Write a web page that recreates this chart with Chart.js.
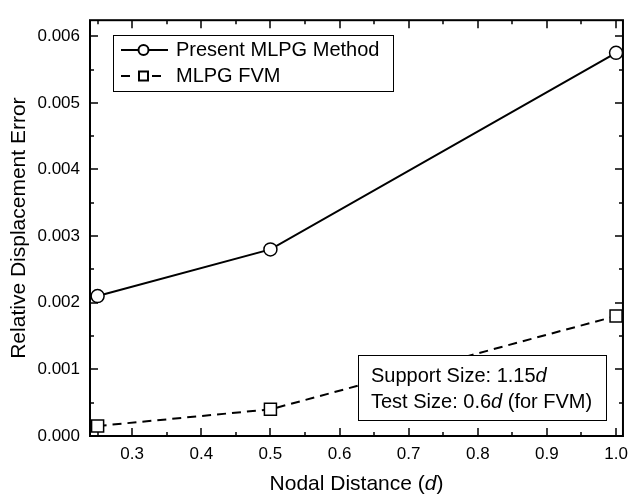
<!DOCTYPE html>
<html>
<head>
<meta charset="utf-8">
<script src="https://cdn.jsdelivr.net/npm/chart.js@4.4.0/dist/chart.umd.min.js"></script>
<style>
  html, body { margin: 0; padding: 0; background: #fff; }
  #wrap { width: 636px; height: 497px; }
</style>
</head>
<body>
<div id="wrap"><canvas id="errChart"></canvas></div>
<script>
// data
const nodalDistance = [0.25, 0.5, 1.0];
const presentMLPG = [0.0021, 0.0028, 0.00575];
const mlpgFVM = [0.00015, 0.0004, 0.0018];

const xTicks = [0.3, 0.4, 0.5, 0.6, 0.7, 0.8, 0.9, 1.0];
const xMinor = [0.25, 0.35, 0.45, 0.55, 0.65, 0.75, 0.85, 0.95];
const yTicks = [0, 0.001, 0.002, 0.003, 0.004, 0.005, 0.006];
const yMinor = [0.0005, 0.0015, 0.0025, 0.0035, 0.0045, 0.0055];

const FONT = "'Liberation Sans', Arial, sans-serif";

function pts(ys) {
    return nodalDistance.map((x, i) => ({ x: x, y: ys[i] }));
}

// draw a string made of [text, italic] pieces starting at x
function drawParts(ctx, parts, x, y, size, align) {
    let total = 0;
    parts.forEach(p => {
        ctx.font = (p[1] ? "italic " : "") + size + "px " + FONT;
        total += ctx.measureText(p[0]).width;
    });
    let cx = align === "center" ? x - total / 2 : x;
    ctx.textAlign = "left";
    parts.forEach(p => {
        ctx.font = (p[1] ? "italic " : "") + size + "px " + FONT;
        ctx.fillText(p[0], cx, y);
        cx += ctx.measureText(p[0]).width;
    });
}

const framePlugin = {
    id: "frame",
    afterDatasetsDraw(chart) {
        const { ctx, chartArea: a, scales: { x, y } } = chart;
        ctx.save();
        ctx.strokeStyle = "#000";
        ctx.fillStyle = "#000";

        // ticks, inward on all four sides
        ctx.lineWidth = 1.5;
        ctx.beginPath();
        const vt = (v, len) => {
            const p = Math.round(x.getPixelForValue(v));
            ctx.moveTo(p, a.bottom); ctx.lineTo(p, a.bottom - len);
            ctx.moveTo(p, a.top); ctx.lineTo(p, a.top + len);
        };
        const ht = (v, len) => {
            const p = Math.round(y.getPixelForValue(v));
            ctx.moveTo(a.left, p); ctx.lineTo(a.left + len, p);
            ctx.moveTo(a.right, p); ctx.lineTo(a.right - len, p);
        };
        xTicks.forEach(v => vt(v, 8));
        xMinor.forEach(v => vt(v, 4));
        yTicks.forEach(v => ht(v, 8));
        yMinor.forEach(v => ht(v, 4));
        ctx.stroke();

        ctx.lineWidth = 2;
        ctx.strokeRect(a.left, a.top, a.right - a.left, a.bottom - a.top);

        // legend box
        ctx.lineWidth = 1;
        ctx.fillStyle = "#fff";
        ctx.fillRect(113, 35, 280, 56);
        ctx.strokeRect(113.5, 35.5, 280, 56);
        ctx.fillStyle = "#000";
        ctx.lineWidth = 2;
        ctx.beginPath();
        ctx.moveTo(121, 50); ctx.lineTo(168, 50);
        ctx.stroke();
        ctx.beginPath();
        ctx.arc(143.5, 50, 5, 0, Math.PI * 2);
        ctx.fillStyle = "#fff"; ctx.fill(); ctx.stroke();
        ctx.beginPath();
        ctx.moveTo(121, 76); ctx.lineTo(130, 76);
        ctx.moveTo(152, 76); ctx.lineTo(161, 76);
        ctx.stroke();
        ctx.fillRect(139, 71.5, 9, 9);
        ctx.strokeRect(139, 71.5, 9, 9);
        ctx.fillStyle = "#000";
        ctx.textBaseline = "middle";
        drawParts(ctx, [["Present MLPG Method", false]], 176, 50, 20, "left");
        drawParts(ctx, [["MLPG FVM", false]], 176, 76, 20, "left");

        // parameter note
        ctx.lineWidth = 1;
        ctx.fillStyle = "#fff";
        ctx.fillRect(358, 355, 248, 65);
        ctx.strokeRect(358.5, 355.5, 248, 65);
        ctx.fillStyle = "#000";
        drawParts(ctx, [["Support Size: 1.15", false], ["d", true]], 371, 376, 20, "left");
        drawParts(ctx, [["Test Size: 0.6", false], ["d", true], [" (for FVM)", false]], 371, 402, 20, "left");

        // axis titles
        drawParts(ctx, [["Nodal Distance (", false], ["d", true], [")", false]],
            (a.left + a.right) / 2, 484, 21, "center");
        ctx.translate(19, (a.top + a.bottom) / 2);
        ctx.rotate(-Math.PI / 2);
        drawParts(ctx, [["Relative Displacement Error", false]], 0, 0, 21, "center");
        ctx.restore();
    }
};

const ctx = document.getElementById("errChart").getContext("2d");

let errChart = new Chart(ctx, {
    type: "line",
    data: {
        datasets: [
            {
                label: "Present MLPG Method",
                data: pts(presentMLPG),
                borderColor: "#000",
                borderWidth: 2,
                pointStyle: "circle",
                pointRadius: 6.5,
                pointBorderWidth: 1.5,
                pointBackgroundColor: "#fff",
                pointBorderColor: "#000",
                clip: false
            },
            {
                label: "MLPG FVM",
                data: pts(mlpgFVM),
                borderColor: "#000",
                borderWidth: 2,
                borderDash: [9, 6],
                pointStyle: "rect",
                pointRadius: 8.5,
                pointBorderWidth: 1.5,
                pointBackgroundColor: "#fff",
                pointBorderColor: "#000",
                clip: false
            }
        ]
    },
    options: {
        responsive: true,
        maintainAspectRatio: false,
        animation: false,
        layout: { padding: { top: 9, right: 4, left: 0, bottom: 0 } },
        plugins: {
            legend: { display: false },
            tooltip: { enabled: false }
        },
        scales: {
            x: {
                type: "linear",
                min: 0.239,
                max: 1.01,
                grid: { display: false, drawTicks: false },
                border: { display: false },
                afterBuildTicks: s => { s.ticks = xTicks.map(v => ({ value: v })); },
                afterFit: s => { s.height = 61; },
                ticks: {
                    padding: 8,
                    color: "#000",
                    font: { family: FONT, size: 17 },
                    callback: v => v.toFixed(1)
                }
            },
            y: {
                min: 0,
                max: 0.00624,
                grid: { display: false, drawTicks: false },
                border: { display: false },
                afterBuildTicks: s => { s.ticks = yTicks.map(v => ({ value: v })); },
                afterFit: s => { s.width = 90; },
                ticks: {
                    padding: 10,
                    color: "#000",
                    font: { family: FONT, size: 17 },
                    callback: v => v.toFixed(3)
                }
            }
        }
    },
    plugins: [framePlugin]
});
</script>
</body>
</html>
